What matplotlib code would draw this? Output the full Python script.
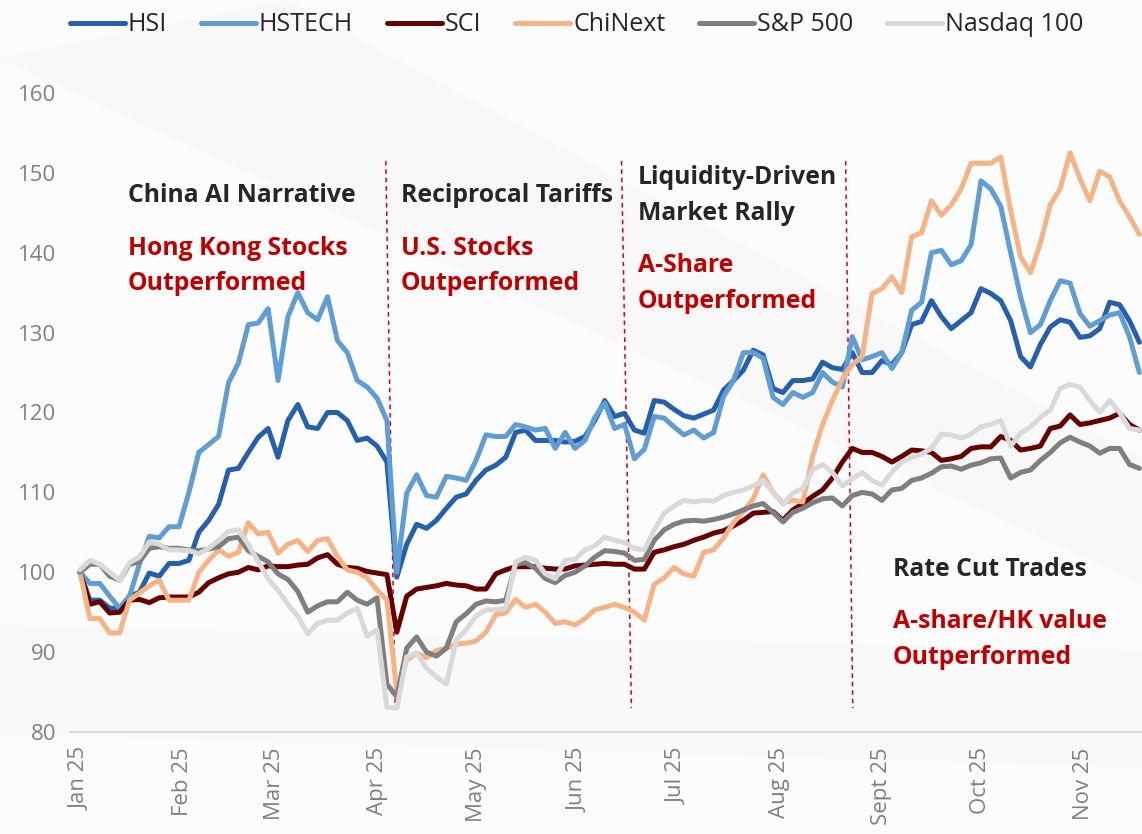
import pandas as pd
import matplotlib.pyplot as plt
from matplotlib.patches import Polygon

# 数据：每 3 天取一个点（2025-01-01 起）
dates = pd.date_range('2025-01-01', periods=108, freq='3D')

hsi = [100, 96.5, 96.5, 95.5, 95.5, 97, 97.5, 99.9, 99.5, 101.1,
       101.1, 101.5, 105, 106.5, 108.5, 112.8, 113, 115, 116.9, 118,
       114.4, 119, 121, 118.2, 118, 120, 120, 119, 116.5, 116.8,
       115.8, 113.8, 99.4, 103.5, 106, 105.5, 106.5, 108, 109.4, 109.8,
       111.5, 112.8, 113.4, 114.4, 117.5, 117.8, 116.5, 116.5, 116.5, 116.3,
       116.4, 117, 119, 121.5, 119.5, 119.9, 117.8, 117.4, 121.5, 121.3,
       120.4, 119.6, 119.3, 119.8, 120.3, 122.8, 124, 125.3, 127.8, 127.2,
       123, 122.5, 124, 124, 124.2, 126.3, 125.6, 125.4, 127.5, 125,
       125, 126.5, 126, 127.5, 131, 131.4, 134, 132, 130.5, 131.5,
       132.5, 135.5, 134.9, 134, 131.5, 127, 125.7, 128.5, 130.7, 131.6,
       131.3, 129.4, 129.6, 130.5, 133.8, 133.5, 131.5, 128.8]

hstech = [100, 98.6, 98.6, 97, 95.5, 97, 101, 104.5, 104.3, 105.7,
          105.7, 110, 115, 116, 117, 123.7, 126.2, 131, 131.2, 133,
          124, 132, 135, 132.5, 131.6, 134.5, 129, 127.5, 124, 123.2,
          121.8, 119, 100, 109.9, 112.2, 109.6, 109.4, 112, 111.8, 111.5,
          114, 117.2, 117, 117, 118.5, 118.2, 117.8, 118, 115.5, 117.5,
          115.5, 116.5, 119.4, 121.2, 118, 118.5, 114.2, 115.4, 119.5, 119.3,
          118.2, 117.2, 117.8, 116.8, 117.5, 122, 124, 127.5, 127.5, 126.8,
          121.9, 121, 122.5, 121.9, 122.5, 125, 123.8, 123.2, 129.5, 126.6,
          127, 127.5, 125.5, 127.5, 132.8, 133.8, 140, 140.3, 138.5, 139,
          141, 149, 148, 145.8, 140, 134.5, 130, 131, 134, 136.5,
          136.2, 132.4, 130.8, 131.5, 132.2, 132.5, 129.5, 125]

sci = [100, 96, 96.3, 94.9, 95, 96.5, 96.6, 96.2, 96.8, 96.9,
       96.9, 96.9, 97.5, 98.7, 99.3, 99.8, 100, 100.6, 100.3, 100.8,
       100.7, 100.7, 100.9, 101, 101.8, 102.2, 101, 100.6, 100.5, 100.1,
       99.9, 99.7, 92.5, 97, 97.9, 98.1, 98.3, 98.6, 98.4, 98.3,
       97.9, 97.9, 99.8, 100.3, 100.7, 100.7, 100.7, 100.5, 100.4, 100.4,
       100.8, 100.9, 101, 101.1, 101, 101, 100.4, 100.4, 102.5, 102.8,
       103.2, 103.5, 104, 104.4, 104.9, 105.2, 105.8, 106.5, 107.4, 107.5,
       107.6, 106.5, 107.8, 108.6, 109.5, 110.3, 111.8, 113.8, 115.5, 115,
       115, 114.5, 113.8, 114.5, 115.3, 115.2, 115, 114, 114.2, 114.5,
       115.5, 115.7, 115.7, 117, 116.5, 115.3, 115.5, 115.8, 118, 118.3,
       119.7, 118.5, 118.7, 119, 119.3, 119.9, 118.5, 117.8]

chinext = [100, 94.2, 94.2, 92.4, 92.4, 96.5, 97.4, 98.3, 99, 96.5,
           96.5, 96.5, 100, 101.5, 102.8, 102, 102.5, 106.2, 104.8, 105,
           102.4, 103.5, 104, 102.6, 104, 104.2, 102, 100.3, 100, 99.3,
           97.8, 96.5, 85, 89, 89.9, 89.3, 90.2, 90.5, 91, 91.1,
           91.4, 92.5, 94.7, 94.9, 96.6, 95.6, 96, 95, 93.6, 93.8,
           93.4, 94.2, 95.3, 95.6, 96, 95.6, 95, 94, 98.5, 99.3,
           100.6, 99.8, 99.5, 102.5, 102.8, 104.3, 106.2, 107.6, 109.2, 112.2,
           110, 108.7, 109, 108.8, 114.5, 118.5, 121.5, 124.2, 126, 127,
           134.9, 135.5, 137, 135, 142, 142.5, 146.5, 144.7, 146, 148,
           151.2, 151.2, 151.2, 152, 145.3, 139.5, 137.5, 141.2, 146, 148,
           152.5, 149.3, 146.5, 150.2, 149.5, 146.5, 144.5, 142.3]

spx = [100, 101, 101, 99.5, 99, 101, 101.3, 103, 103.2, 103,
       103, 102.8, 102.7, 102.9, 103.2, 104.2, 104.4, 102.7, 102, 101.3,
       99.8, 99.1, 97.6, 95, 95.8, 96.3, 96.3, 97.5, 96.5, 96,
       96.8, 86, 84.4, 90.5, 91.9, 90, 89.5, 90.5, 93.8, 94.8,
       96, 96.4, 96.3, 96.5, 101, 101.2, 100.5, 99.2, 98.7, 99.6,
       100, 100.8, 101.9, 102.7, 102.6, 102.4, 101.5, 101.6, 104, 105.3,
       106, 106.4, 106.5, 106.4, 106.6, 106.9, 107.3, 107.8, 108.3, 108.6,
       107.5, 106.3, 107.5, 108, 108.7, 109.2, 109.3, 108.3, 109.6, 110,
       109.8, 109, 110.3, 110.5, 111.5, 111.8, 112.4, 113.2, 113.3, 112.9,
       113.4, 113.7, 114.2, 114.3, 111.8, 112.5, 112.8, 114, 115, 116.2,
       116.9, 116.3, 115.8, 114.9, 115.5, 115.5, 113.5, 113]

ndx = [100.3, 101.5, 101, 100, 99, 101.2, 101.9, 103.8, 103.5, 102.8,
       102.8, 102.7, 102.3, 103, 104, 105.1, 105.3, 103.5, 101.3, 99.2,
       97.7, 96, 94.5, 92.3, 93.6, 94, 94, 94.9, 95.5, 92,
       92.8, 83.1, 83, 89.4, 89.9, 88, 86.9, 86, 91.5, 92.8,
       94.5, 95.3, 95.3, 95.5, 101.3, 101.9, 101.5, 99.8, 99.2, 101.5,
       101.6, 102.8, 103.3, 104.4, 104, 103.7, 103, 102.8, 105.3, 107.4,
       108.3, 109, 108.8, 109, 108.9, 109.6, 110, 110.3, 110.8, 111.5,
       110, 108.5, 109.9, 110.5, 112.8, 113.5, 112.5, 110.8, 111.7, 112.5,
       111.5, 110.9, 112.5, 113.8, 114.4, 114.8, 115.5, 117.3, 117.2, 116.8,
       117.3, 118.2, 118.5, 119, 115.8, 117.4, 118.2, 119.4, 120.3, 123,
       123.5, 123.2, 121.5, 120, 121.5, 120, 118, 117.8]

series_names = ['HSI', 'HSTECH', 'SCI', 'ChiNext', 'S&P 500', 'Nasdaq 100']
series_colors = ['#2660AB', '#5F9DD3', '#660000', '#F4B487', '#7F7F7F', '#D9D9D9']

month_ticks = pd.date_range('2025-01-01', '2025-11-01', freq='MS')
month_labels = ['Jan 25', 'Feb 25', 'Mar 25', 'Apr 25', 'May 25', 'Jun 25',
                'Jul 25', 'Aug 25', 'Sept 25', 'Oct 25', 'Nov 25']

# 阶段分界线（上端日期, 下端日期）
dividers = [('2025-04-03 16:00', '2025-04-06 12:00'),
            ('2025-06-14 02:00', '2025-06-17 02:00'),
            ('2025-08-21 00:00', '2025-08-23 04:00')]

# 注释文字：(x像素, y像素, 文字, 颜色)
notes = [(128, 196, 'China AI Narrative', '#262626'),
         (128, 249, 'Hong Kong Stocks', '#C00000'),
         (128, 284, 'Outperformed', '#C00000'),
         (401, 196, 'Reciprocal Tariffs', '#262626'),
         (401, 249, 'U.S. Stocks', '#C00000'),
         (401, 284, 'Outperformed', '#C00000'),
         (638, 178, 'Liquidity-Driven', '#262626'),
         (638, 214, 'Market Rally', '#262626'),
         (638, 266, 'A-Share', '#C00000'),
         (638, 302, 'Outperformed', '#C00000'),
         (893, 569, 'Rate Cut Trades', '#262626'),
         (893, 622, 'A-share/HK value', '#C00000'),
         (893, 657, 'Outperformed', '#C00000')]

plt.rcParams['font.family'] = ['Open Sans', 'DejaVu Sans']

W, H = 1142, 834
fig = plt.figure(figsize=(W / 100, H / 100), dpi=100)
fig.patch.set_facecolor('#fcfcfc')

# 淡淡的背景斜纹
fig.patches.append(Polygon([(0, 0.93), (0.25, 1.0), (1.0, 0.45), (1.0, 0.30)],
                           closed=True, transform=fig.transFigure,
                           facecolor='#f8f8f8', edgecolor='none', zorder=-5))
fig.patches.append(Polygon([(0, 0.25), (0, 0.12), (1.0, 0.08), (1.0, 0.22)],
                           closed=True, transform=fig.transFigure,
                           facecolor='#f9f9f9', edgecolor='none', zorder=-5))

ax = fig.add_axes([70 / W, 1 - 732 / H, 1 - 70 / W, (732 - 93) / H])
ax.set_facecolor('none')

data = [hsi, hstech, sci, chinext, spx, ndx]
for vals, name, col in zip(data, series_names, series_colors):
    ax.plot(dates, vals, color=col, lw=3.6, label=name,
            solid_joinstyle='round', solid_capstyle='round')

for top, bot in dividers:
    ax.plot([pd.Timestamp(top), pd.Timestamp(bot)], [151.5, 83],
            color='#D0021B', lw=1.1, ls=(0, (3, 2.5)), zorder=1)

start = pd.Timestamp('2025-01-01')
ax.set_xlim(start - pd.Timedelta(days=3.03), start + pd.Timedelta(days=321.8))
ax.set_ylim(80, 160)
ax.set_yticks(range(80, 161, 10))
ax.set_xticks(month_ticks)
ax.set_xticklabels(month_labels, rotation=90, ha='center', va='top')
ax.tick_params(axis='both', length=0, colors='#808080', labelsize=16)
ax.tick_params(axis='x', pad=11)
ax.tick_params(axis='y', pad=10)

for s in ['top', 'right', 'left']:
    ax.spines[s].set_visible(False)
ax.spines['bottom'].set_color('#d9d9d9')
ax.spines['bottom'].set_linewidth(1.5)

for x, y, txt, col in notes:
    fig.text(x / W, 1 - y / H, txt, color=col, fontsize=17.8, fontweight='bold',
             ha='left', va='center')

fig.legend(loc='upper center', bbox_to_anchor=(0.505, 1.012), ncol=6, frameon=False,
           fontsize=18, handlelength=2.2, handletextpad=0.12, columnspacing=1.35,
           labelcolor='#262626')

fig.savefig('out.png', dpi=100, facecolor=fig.get_facecolor())
